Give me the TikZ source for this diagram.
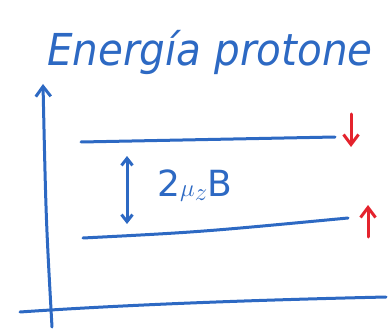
\documentclass[tikz,border=0pt]{standalone}
\usepackage{fontspec}
\setmainfont{DejaVu Sans}
\usetikzlibrary{arrows.meta}
\definecolor{pen}{RGB}{45,105,195}
\definecolor{redpen}{RGB}{228,35,45}
\tikzset{
  ink/.style={draw=pen, line width=3pt, line cap=round, line join=round},
  redink/.style={draw=redpen, line width=3pt, line cap=round, line join=round},
  tip/.style={-{Straight Barb[length=10pt,width=15pt,line width=3pt]}},
  lbl/.style={text=pen, inner sep=0pt, font=\fontsize{36}{36}\selectfont}
}
\begin{document}
\begin{tikzpicture}[x=1pt,y=-1pt]
\useasboundingbox (0,0) rectangle (390,331);
% title
\node[text=pen, inner sep=0pt, font=\fontsize{44}{44}\selectfont\itshape, xscale=0.92] (title) at (210,52) {Energía protone};
% axes
\coordinate (yb) at (52,327);
\coordinate (yt) at (43,84);
\coordinate (xl) at (20,312);
\coordinate (xr) at (386,297);
\draw[ink, tip] (yb) .. controls (46,220) .. (yt);
\draw[ink] (xl) .. controls (150,303) and (300,299) .. (xr);
% levels
\coordinate (u1) at (81,142);
\coordinate (u2) at (335,137);
\coordinate (l1) at (83,238);
\coordinate (l2) at (348,218);
\draw[ink] (u1) -- (u2);
\draw[ink] (l1) .. controls (200,232) .. (l2);
% gap arrow
\coordinate (g1) at (127,156);
\coordinate (g2) at (127,224);
\draw[ink, {Straight Barb[length=7pt,width=11pt,line width=3pt]}-{Straight Barb[length=7pt,width=11pt,line width=3pt]}] (g1) -- (g2);
\node[lbl, anchor=west] (lab) at (157,186) {2$\mu_z$B};
% spin arrows
\coordinate (d1) at (351,114);
\coordinate (d2) at (351,147);
\coordinate (s1) at (368,237);
\coordinate (s2) at (368,205);
\draw[redink, tip] (d1) -- (d2);
\draw[redink, tip] (s1) -- (s2);
\end{tikzpicture}
\end{document}
